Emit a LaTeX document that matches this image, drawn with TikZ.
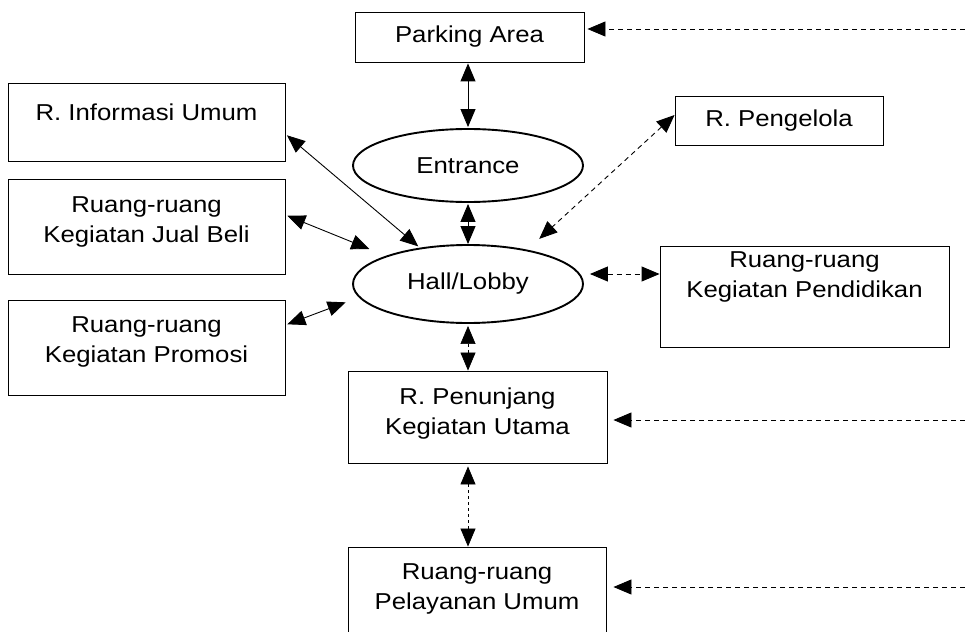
\documentclass[tikz,border=0pt]{standalone}
\usepackage{fontspec}
\setmainfont{Liberation Sans}[FakeStretch=1.12]
\usetikzlibrary{arrows.meta,shapes.geometric}

\begin{document}
\begin{tikzpicture}[x=1pt,y=-1pt,
  font=\fontsize{23}{30}\selectfont,
  room/.style={draw, line width=0.9pt, rectangle, inner sep=0pt},
  hub/.style={draw, ellipse, line width=1.9pt, inner sep=0pt},
  caption/.style={align=center, inner sep=0pt},
  link/.style={line width=0.9pt, {Triangle[length=18pt,width=15pt]}-{Triangle[length=18pt,width=15pt]}},
  dlink/.style={link, dash pattern=on 5pt off 4pt},
  flink/.style={link, line width=0.7pt, dash pattern=on 3pt off 3pt},
  feed/.style={line width=0.9pt, -{Triangle[length=18pt,width=15pt]}, dash pattern=on 5pt off 4pt}
]
\useasboundingbox (0,0) rectangle (965,631);
\clip (0,0) rectangle (965,631);

% central circulation
\node[room, minimum width=229pt, minimum height=50pt] (park) at (469.5,37) {Parking Area};
\node[hub, minimum width=230pt, minimum height=73pt] (ent) at (468,165.5) {Entrance};
\node[hub, minimum width=230pt, minimum height=78pt] (hall) at (468,284) {Hall/Lobby};

% rooms on the left
\node[room, minimum width=277pt, minimum height=78pt] (info) at (146.5,122) {};
\node[caption] (infot) at (146.5,112) {R. Informasi Umum};
\node[room, minimum width=277pt, minimum height=95pt] (jual) at (146.5,226.5) {};
\node[caption] (jualt) at (146.5,222) {Ruang-ruang\\Kegiatan Jual Beli};
\node[room, minimum width=277pt, minimum height=95pt] (promo) at (146.5,347.5) {};
\node[caption] (promot) at (146.5,342) {Ruang-ruang\\Kegiatan Promosi};

% rooms on the right
\node[room, minimum width=208pt, minimum height=49pt] (peng) at (779,120.5) {R. Pengelola};
\node[room, minimum width=289pt, minimum height=101pt] (pend) at (804.5,296.5) {};
\node[caption] (pendt) at (804.5,277) {Ruang-ruang\\Kegiatan Pendidikan};

% supporting rooms below
\node[room, minimum width=259pt, minimum height=92pt] (pen) at (477.5,417) {};
\node[caption] (pent) at (477.5,414) {R. Penunjang\\Kegiatan Utama};
\node[room, minimum width=258pt, minimum height=93pt] (pel) at (477,593.5) {};
\node[caption] (pelt) at (477,589) {Ruang-ruang\\Pelayanan Umum};

% outside access points
\coordinate (outP) at (965,29);
\coordinate (outU) at (965,420);
\coordinate (outL) at (965,587);

% vertical spine
\draw[link, shorten <=1pt, shorten >=1pt] (park.south -| ent.north) -- (ent.north);
\draw[link, shorten <=1pt, shorten >=0pt] (ent.south) -- (hall.north);
\draw[flink, shorten <=2pt] (hall.south) -- (hall.south |- pen.north);
\draw[flink, shorten <=3pt] (hall.south |- pen.south) -- (hall.south |- pel.north);

% left connections
\draw[link, shorten <=2pt, shorten >=2pt] ([yshift=-12pt]info.east) -- (hall.143.5);
\draw[link, shorten <=2pt, shorten >=18pt] ([yshift=11.5pt]jual.east) -- (hall.161);
\draw[link, shorten <=2pt, shorten >=14pt] ([yshift=22.5pt]promo.east) -- (hall.187.5);

% right connections
\draw[dlink, shorten >=16pt] ([yshift=5.5pt]peng.west) -- (hall.30);
\draw[dlink] ([xshift=6pt,yshift=10pt]hall.east) -- ([yshift=22.5pt]pend.west);

% links from outside
\draw[feed, shorten >=3pt] (outP) -- ([yshift=8pt]park.east);
\draw[feed, shorten >=6pt] (outU) -- ([yshift=-3pt]pen.east);
\draw[feed, shorten >=7pt] (outL) -- ([yshift=6.5pt]pel.east);
\end{tikzpicture}
\end{document}
